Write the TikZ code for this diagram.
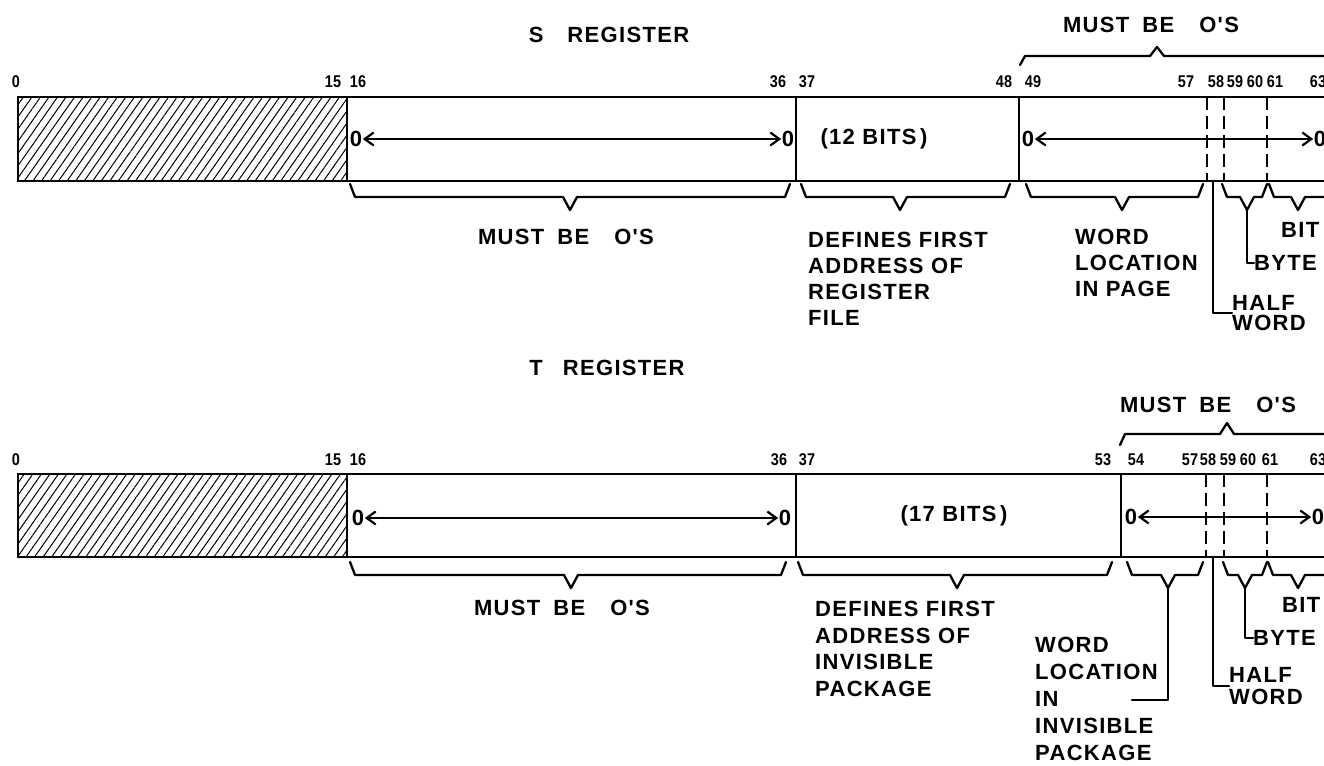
\documentclass[tikz,border=0pt]{standalone}
\usepackage{fontspec}
\setmainfont{Liberation Sans}
\newfontfamily\lab{Liberation Sans}[LetterSpace=6]
\newfontfamily\numf{Liberation Sans}[FakeStretch=0.85]
\usetikzlibrary{arrows.meta,patterns.meta}
\newcommand{\mustbe}{MUST\hspace{13pt}BE\hspace{25pt}O'S}
\tikzset{
  x=1pt,y=-1pt,
  reg/.style={line width=2.6pt},
  hatch/.style={pattern={Lines[angle=55,distance=7pt,line width=1pt]}},
  dsh/.style={line width=2.3pt,dash pattern=on 13pt off 6pt},
  brc/.style={line width=2.3pt,line join=round,line cap=round},
  lbl/.style={font=\lab\bfseries\fontsize{22}{26}\selectfont,inner sep=0pt,align=left},
  num/.style={font=\numf\bfseries\fontsize{17}{17}\selectfont,inner sep=0pt},
  zero/.style={font=\bfseries\fontsize{22}{22}\selectfont,inner sep=0.5pt},
  arr/.style={line width=2.2pt,{Straight Barb[length=9pt,width=13pt,line width=2.2pt]}-{Straight Barb[length=9pt,width=13pt,line width=2.2pt]}},
}
% brace pointing down: x1, x2, xm, ytop, tip name
\newcommand{\brdn}[5]{%
  \draw[brc] (#1,#4) -- (#1+5,#4+13) -- (#3-7,#4+13) -- (#3,#4+26) -- (#3+7,#4+13) -- (#2-5,#4+13) -- (#2,#4);
  \coordinate (#5) at (#3,#4+26);}
% brace pointing up: x1, x2, xm, ybottom, rise
\newcommand{\brup}[5]{%
  \draw[brc] (#1,#4) -- (#1+5,#4-#5) -- (#3-7,#4-#5) -- (#3,#4-2*#5) -- (#3+7,#4-#5) -- (#2-5,#4-#5) -- (#2,#4);}
\begin{document}
\begin{tikzpicture}
\useasboundingbox (0,0) rectangle (1324,765);
\clip (0,0) rectangle (1324,765);
\fill[white] (0,0) rectangle (1324,765);

% ================= S REGISTER =================
\node[lbl,anchor=center] (stitle) at (609,35) {S\hspace{24pt}REGISTER};
\node[lbl,anchor=center] (smust) at (1151,25) {\mustbe};
\brup{1020}{1330}{1157}{65}{9}

\node[num] (s0) at (16,82) {0};
\node[num] (s15) at (333,82) {15};
\node[num] (s16) at (358,82) {16};
\node[num] (s36) at (778,82) {36};
\node[num] (s37) at (807,82) {37};
\node[num] (s48) at (1004,82) {48};
\node[num] (s49) at (1033,82) {49};
\node[num] (s57) at (1186,82) {57};
\node[num] (s58) at (1216,82) {58};
\node[num] (s59) at (1235,82) {59};
\node[num] (s60) at (1255,82) {60};
\node[num] (s61) at (1275,82) {61};
\node[num] (s63) at (1318,82) {63};

\fill[hatch] (18,97) rectangle (347,181);
\draw[reg] (18,97) rectangle (1340,181);
\draw[reg] (347,97) -- (347,181);
\draw[reg] (796,97) -- (796,181);
\draw[reg] (1019,97) -- (1019,181);
\draw[dsh] (1207,97) -- (1207,181);
\draw[dsh] (1224,97) -- (1224,181);
\draw[dsh] (1267,97) -- (1267,181);

\node[zero] (sl0) at (356,139) {0};
\node[zero] (sr0) at (788,139) {0};
\draw[arr] (sl0) -- (sr0);
\node[lbl,anchor=center] (s12) at (874,139) {(12 BITS\,)};
\node[zero] (sl1) at (1028,139) {0};
\node[zero] (sr1) at (1320,139) {0};
\draw[arr] (sl1) -- (sr1);

\brdn{350}{790}{570}{184}{sb1}
\brdn{801}{1010}{900}{184}{sb2}
\brdn{1026}{1203}{1122}{184}{sb3}
\brdn{1222}{1267}{1247}{184}{sbyte}
\brdn{1269}{1335}{1298}{184}{sbit}
\coordinate (shw) at (1213,181);

\node[lbl,anchor=center] (smust2) at (566,237) {\mustbe};
\node[lbl,anchor=north west] (sdef) at (808,232) {DEFINES FIRST\\ADDRESS OF\\REGISTER\\FILE};
\node[lbl,anchor=north west] (swl) at (1075,229) {WORD\\LOCATION\\IN PAGE};
\node[lbl,anchor=north west] (sbitt) at (1281,222) {BIT};
\node[lbl,anchor=west] (sbytet) at (1254,263) {BYTE};
\node[lbl,anchor=north west,font=\lab\bfseries\fontsize{22}{20.5}\selectfont] (shalf) at (1232,295) {HALF\\WORD};
\draw[brc] (sbyte) |- (sbytet.west);
\draw[brc] (shw) |- (shalf.west);

% ================= T REGISTER =================
\node[lbl,anchor=center] (ttitle) at (607,368) {T\hspace{20pt}REGISTER};
\node[lbl,anchor=center] (tmust) at (1208,405) {\mustbe};
\brup{1120}{1330}{1227}{445}{11}

\node[num] (t0) at (16,460) {0};
\node[num] (t15) at (333,460) {15};
\node[num] (t16) at (358,460) {16};
\node[num] (t36) at (779,460) {36};
\node[num] (t37) at (807,460) {37};
\node[num] (t53) at (1103,460) {53};
\node[num] (t54) at (1136,460) {54};
\node[num] (t57) at (1190,460) {57};
\node[num] (t58) at (1208,460) {58};
\node[num] (t59) at (1228,460) {59};
\node[num] (t60) at (1248,460) {60};
\node[num] (t61) at (1270,460) {61};
\node[num] (t63) at (1318,460) {63};

\fill[hatch] (18,474) rectangle (347,557);
\draw[reg] (18,474) rectangle (1340,557);
\draw[reg] (347,474) -- (347,557);
\draw[reg] (796,474) -- (796,557);
\draw[reg] (1121,474) -- (1121,557);
\draw[dsh] (1206,474) -- (1206,557);
\draw[dsh] (1224,474) -- (1224,557);
\draw[dsh] (1267,474) -- (1267,557);

\node[zero] (tl0) at (358,518) {0};
\node[zero] (tr0) at (785,518) {0};
\draw[arr] (tl0) -- (tr0);
\node[lbl,anchor=center] (t17) at (954,516) {(17 BITS\,)};
\node[zero] (tl1) at (1131,517) {0};
\node[zero] (tr1) at (1318,517) {0};
\draw[arr] (tl1) -- (tr1);

\brdn{350}{786}{571}{562}{tb1}
\brdn{798}{1112}{957}{562}{tb2}
\brdn{1127}{1203}{1168}{562}{twl}
\brdn{1223}{1267}{1245}{562}{tbyte}
\brdn{1268}{1335}{1298}{562}{tbit}
\coordinate (thw) at (1213,557);
\coordinate (wlend) at (1132,700);

\node[lbl,anchor=center] (tmust2) at (562,608) {\mustbe};
\node[lbl,anchor=north west,font=\lab\bfseries\fontsize{22}{26.5}\selectfont] (tdef) at (815,601) {DEFINES FIRST\\ADDRESS OF\\INVISIBLE\\PACKAGE};
\node[lbl,anchor=north west,font=\lab\bfseries\fontsize{22}{27}\selectfont] (twlt) at (1035,637) {WORD\\LOCATION\\IN\\INVISIBLE\\PACKAGE};
\node[lbl,anchor=north west] (tbitt) at (1282,597) {BIT};
\node[lbl,anchor=west] (tbytet) at (1253,638) {BYTE};
\node[lbl,anchor=north west,font=\lab\bfseries\fontsize{22}{22}\selectfont] (thalf) at (1229,667) {HALF\\WORD};
\draw[brc] (twl) |- (wlend);
\draw[brc] (tbyte) |- (tbytet.west);
\draw[brc] (thw) |- (thalf.west);
\end{tikzpicture}
\end{document}
